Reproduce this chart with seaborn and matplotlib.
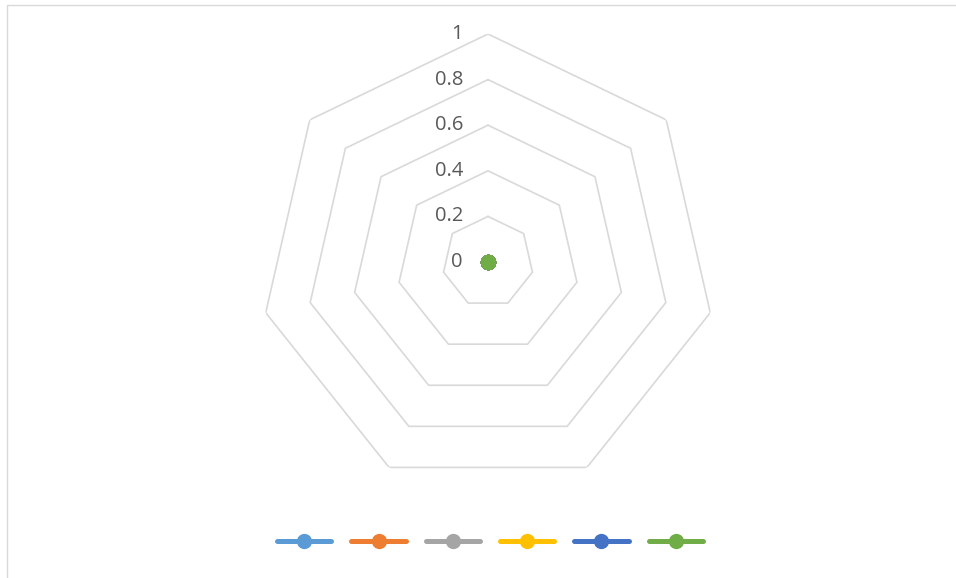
import numpy as np
import pandas as pd
import matplotlib
matplotlib.use("Agg")
import matplotlib.pyplot as plt
from matplotlib.lines import Line2D
from matplotlib.patches import Rectangle
import seaborn as sns

# Data
categories = ["A", "B", "C", "D", "E", "F", "G"]
series_names = ["", "", "", "", "", ""]
series_values = [
    [0, 0, 0, 0, 0, 0, 0],
    [0, 0, 0, 0, 0, 0, 0],
    [0, 0, 0, 0, 0, 0, 0],
    [0, 0, 0, 0, 0, 0, 0],
    [0, 0, 0, 0, 0, 0, 0],
    [0, 0, 0, 0, 0, 0, 0],
]
colors = ["#5B9BD5", "#ED7D31", "#A5A5A5", "#FFC000", "#4472C4", "#70AD47"]
radial_ticks = [0, 0.2, 0.4, 0.6, 0.8, 1]
radial_labels = ["0", "0.2", "0.4", "0.6", "0.8", "1"]

sns.set_theme(style="white")
plt.rcParams["font.family"] = ["Open Sans", "DejaVu Sans"]

W, H = 956, 578
fig = plt.figure(figsize=(W / 100, H / 100), dpi=100)

# chart border (left & top visible)
fig.patches.append(Rectangle((7 / W, -0.1), 2.0, (H - 5) / H + 0.1,
                             transform=fig.transFigure, fill=False,
                             edgecolor="#d9d9d9", linewidth=1.0))

cx, cy, R = 488, 262, 228
ax = fig.add_axes([(cx - R) / W, (H - cy - R) / H, 2 * R / W, 2 * R / H],
                  projection="polar")
ax.set_theta_offset(np.pi / 2)
ax.set_theta_direction(-1)
ax.set_ylim(0, 1)
ax.grid(False)
ax.spines["polar"].set_visible(False)
ax.patch.set_alpha(0)

n = len(categories)
theta = np.linspace(0, 2 * np.pi, n, endpoint=False)
theta_c = np.concatenate([theta, theta[:1]])

# grid heptagons
for t in radial_ticks[1:]:
    ax.plot(theta_c, [t] * (n + 1), color="#d9d9d9", lw=1.2, zorder=1,
            solid_joinstyle="miter")

# radial labels along the top axis
for t, lab in zip(radial_ticks, radial_labels):
    ypix = cy - R * t
    fig.text((cx - 25) / W, (H - ypix) / H, lab, ha="right", va="center",
             fontsize=14.5, color="#595959")

# series
handles = []
for name, vals, col in zip(series_names, series_values, colors):
    v = np.concatenate([vals, vals[:1]])
    df = pd.DataFrame({"theta": theta_c, "r": v})
    sns.lineplot(data=df, x="theta", y="r", ax=ax, sort=False, color=col,
                 lw=2.8, marker="o", markersize=11, markeredgewidth=0,
                 estimator=None, zorder=3)
    handles.append(Line2D([0], [0], color=col, lw=3.6, marker="o",
                          markersize=11, markeredgewidth=0,
                          solid_capstyle="round"))

ax.set_xlabel("")
ax.set_ylabel("")
ax.set_xticks([])
ax.set_yticks([])
ax.set_ylim(0, 1)

fig.legend(handles, series_names, loc="center", ncol=6,
           bbox_to_anchor=(490 / W, (H - 542) / H), frameon=False,
           handlelength=3.9, handletextpad=0.0, columnspacing=1.45,
           fontsize=10)

fig.savefig("out.png", dpi=100)
